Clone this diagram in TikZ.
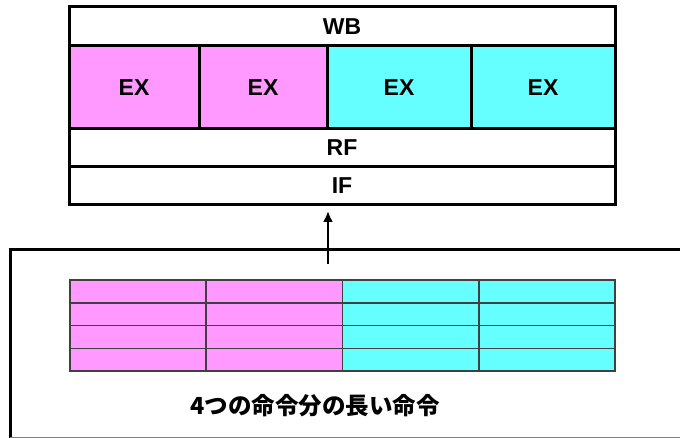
\documentclass[tikz,border=0pt]{standalone}
\usepackage{fontspec}
\usetikzlibrary{arrows.meta}
\setmainfont{Liberation Sans}
\newfontfamily\jp{Noto Sans CJK JP}
\definecolor{pinkc}{HTML}{FF99FF}
\definecolor{cyanc}{HTML}{66FFFF}
\definecolor{gridc}{HTML}{404040}
\begin{document}
\begin{tikzpicture}[x=1pt,y=-1pt,
  stage/.style={draw=black,line width=3pt,inner sep=0pt,font=\fontsize{23}{23}\selectfont\bfseries},
  cell/.style={draw=gridc,line width=1.5pt,inner sep=0pt,minimum width=136.25pt,minimum height=22.75pt}]
\useasboundingbox (0,0) rectangle (680,438);
% top pipeline box
\node[stage,minimum width=546pt,minimum height=39pt] (wb) at (342,26.5) {WB};
\node[stage,fill=pinkc,minimum width=130pt,minimum height=83pt] (ex1) at (134,87.5) {EX};
\node[stage,fill=pinkc,minimum width=128pt,minimum height=83pt] (ex2) at (263,87.5) {EX};
\node[stage,fill=cyanc,minimum width=144pt,minimum height=83pt] (ex3) at (399,87.5) {EX};
\node[stage,fill=cyanc,minimum width=144pt,minimum height=83pt] (ex4) at (543,87.5) {EX};
\node[stage,minimum width=546pt,minimum height=38pt] (rf) at (342,148) {RF};
\node[stage,minimum width=546pt,minimum height=38pt] (if) at (342,186) {IF};
% lower box (extends past right and bottom edges)
\draw[line width=3pt] (10,440) -- (10,250) -- (690,250);
\coordinate (tail) at (328,264);
\coordinate (tip) at (328,211);
\draw[line width=2.6pt,-{Latex[length=11pt,width=10pt]}] (tail) -- (tip);
% long instruction grid
\foreach \r in {0,1,2,3}{
  \node[cell,fill=pinkc] (a\r) at (138.1,{291.4+22.75*\r}) {};
  \node[cell,fill=pinkc] (b\r) at (274.4,{291.4+22.75*\r}) {};
  \node[cell,fill=cyanc] (c\r) at (410.6,{291.4+22.75*\r}) {};
  \node[cell,fill=cyanc] (d\r) at (546.9,{291.4+22.75*\r}) {};
}
\node[font=\jp\fontsize{23.5}{24}\selectfont\bfseries] (lbl) at (315,406) {4つの命令分の長い命令};
\draw[gray,line width=1pt] (10,437.5) -- (690,437.5);
\end{tikzpicture}
\end{document}
